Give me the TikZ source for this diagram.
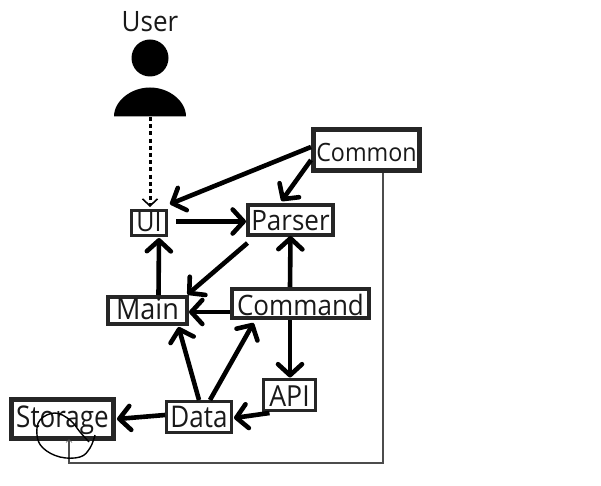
\documentclass[tikz,border=0pt]{standalone}
\usepackage{fontspec}
\usepackage{graphicx}
\setmainfont{Open Sans}
\usetikzlibrary{arrows.meta,calc}
\newcommand{\fitxy}[3]{\scalebox{#1}[#2]{#3}}
\tikzset{
  x=1pt,y=-1pt,
  box/.style={draw=black!85,fill=white,inner sep=0pt,text=black!90,font=\fontsize{26}{26}\selectfont,anchor=center},
  tb/.style={text height=#1,text depth=0pt},
  flow/.style={draw=black,line width=4.6pt,-{Straight Barb[length=11pt,width=24pt,line width=4.6pt,round]}},
  dotline/.style={draw=black,line width=3pt,dash pattern=on 4pt off 3.2pt,-{Straight Barb[length=7pt,width=15pt,line width=1.6pt]}},
  thinline/.style={draw=black!70,line width=1.1pt,-{Straight Barb[length=3pt,width=6pt,line width=.7pt]}},
  scribble/.style={draw=black,line width=1.4pt,smooth,tension=.65},
}
\begin{document}
\begin{tikzpicture}
\useasboundingbox (0,0) rectangle (601,486);
\fill[white] (0,0) rectangle (601,486);
% user
\node[text=black!90,font=\fontsize{26}{26}\selectfont,inner sep=0pt,tb=20pt] (user) at (150,22) {\fitxy{1}{1.08}{User}};
\fill (150,58) circle[radius=18.5];
\fill (114,116.5) .. controls (114,101) and (131,87.5) .. (150,87.5) .. controls (169,87.5) and (186,101) .. (186,116.5) -- cycle;
\coordinate (userfoot) at (150,117);
% boxes
\node[box,line width=5pt,minimum width=106pt,minimum height=41pt,font=\fontsize{24}{24}\selectfont,tb=24pt] (common) at (366.5,150) {\fitxy{.97}{1.05}{Common}};
\node[box,line width=4pt,minimum width=85pt,minimum height=30pt,tb=20pt] (parser) at (290.5,220) {\fitxy{1}{1.08}{Parser}};
\node[box,line width=3pt,minimum width=35pt,minimum height=25pt,font=\fontsize{25}{25}\selectfont,tb=16pt] (ui) at (149,223) {\fitxy{1}{1.08}{UI}};
\node[box,line width=4pt,minimum width=79pt,minimum height=27pt,font=\fontsize{27}{27}\selectfont,tb=17pt] (main) at (147.5,310.5) {\fitxy{1}{1.08}{Main}};
\node[box,line width=4pt,minimum width=137pt,minimum height=29pt,tb=23pt] (command) at (300.5,303.5) {\fitxy{1}{1.08}{Command}};
\node[box,line width=3pt,minimum width=52pt,minimum height=31pt,font=\fontsize{29}{29}\selectfont,tb=22pt] (api) at (289.5,395) {\fitxy{.92}{1}{API}};
\node[box,line width=3pt,minimum width=65pt,minimum height=31pt,tb=20pt] (data) at (199,417) {\fitxy{1}{1.15}{Data}};
\node[box,line width=5pt,minimum width=102pt,minimum height=39pt,tb=16pt] (storage) at (62.5,419) {\fitxy{1}{1.15}{Storage}};
% connectors
\draw[dotline] (userfoot) -- ([xshift=1pt,yshift=2pt]ui.north);
\draw[flow] ([yshift=3pt]common.west) -- ([xshift=21pt,yshift=5pt]ui.north);
\draw[flow] ([yshift=-10pt]common.west) -- ([xshift=-9pt,yshift=2pt]parser.north);
\draw[flow] ([xshift=8pt,yshift=1.5pt]ui.east) -- ([yshift=-1.5pt]parser.west);
\draw[flow] ([xshift=-43pt,yshift=-23pt]parser.center) -- ([xshift=40pt,yshift=16pt]main.center);
\draw[flow] ([xshift=-10.5pt]command.north) -- ([yshift=1pt]parser.south);
\draw[flow] ([xshift=11pt]main.north) -- ([xshift=10pt,yshift=-1pt]ui.south);
\draw[flow] ([yshift=-8.5pt]command.west) -- ([yshift=-1.5pt]main.east);
\draw[flow] ([xshift=-10.5pt]command.south) -- ([xshift=.5pt,yshift=.5pt]api.north);
\draw[flow] ([xshift=0pt]data.north) -- ([xshift=31pt,yshift=-1pt]main.south);
\draw[flow] ([xshift=11pt]data.north) -- ([xshift=-47pt,yshift=-3pt]command.south);
\draw[flow] ([xshift=-20pt,yshift=-18pt]api.center) -- ([xshift=1pt,yshift=-1pt]data.east);
\draw[flow] ([yshift=2pt]data.west) -- ([xshift=1pt]storage.east);
\coordinate (corner1) at (383,463);
\coordinate (corner2) at (69,463);
\draw[thinline] ([xshift=16.5pt]common.south) -- (corner1) -- (corner2) -- ([xshift=6.5pt,yshift=2pt]storage.south);
\draw[scribble] plot coordinates {(95,435) (90,448) (80,457) (60,457) (43,448) (37,435) (40,420) (55,413) (70,420) (80,432) (89,442)};
\end{tikzpicture}
\end{document}
